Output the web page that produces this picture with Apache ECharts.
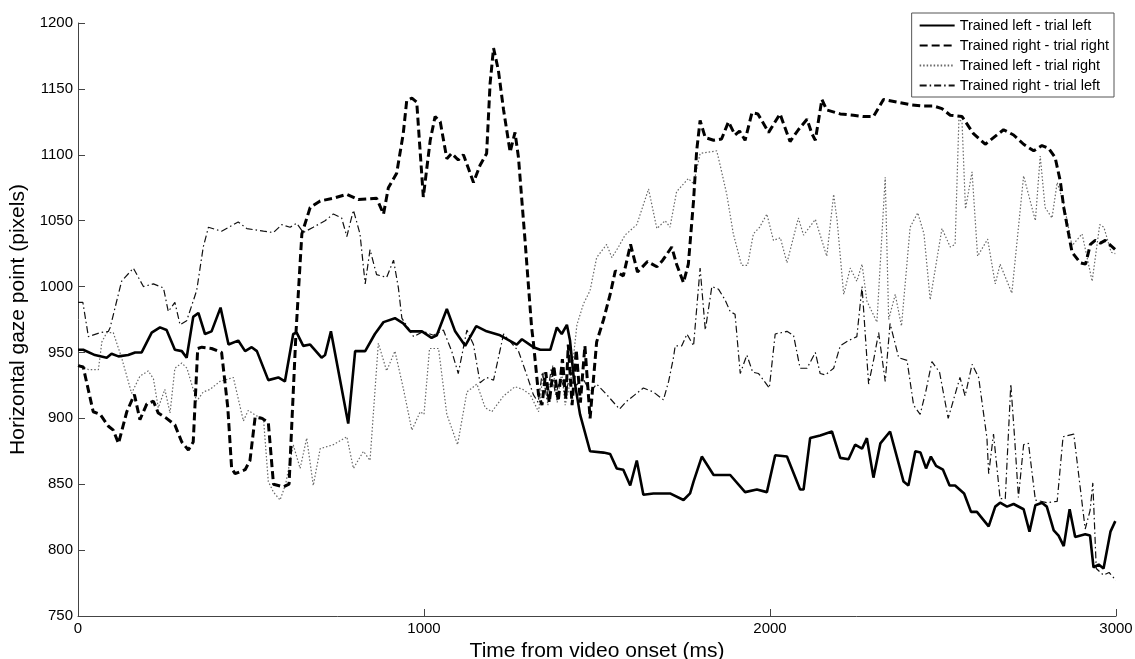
<!DOCTYPE html>
<html>
<head>
<meta charset="utf-8">
<script src="https://cdn.jsdelivr.net/npm/echarts@6/dist/echarts.min.js"></script>
<style>
  html, body { margin: 0; padding: 0; background: #fff; }
  #chart { width: 1135px; height: 659px; }
</style>
</head>
<body>
<div id="chart"></div>
<script>
// series names (legend order)
const seriesNames = [
  "Trained left - trial left",
  "Trained right - trial right",
  "Trained left - trial right",
  "Trained right - trial left"
];

// Trained left - trial left (solid)
const tSolid = [0, 15, 49, 83, 97, 117, 145, 165, 184, 213, 237, 256, 280, 300, 314, 333, 348, 367, 386, 412,
  435, 463, 483, 502, 517, 550, 579, 598, 622, 632, 651, 671, 704, 714, 731, 781, 801, 830, 858, 883,
  916, 940, 960, 994, 1022, 1037, 1066, 1090, 1119, 1151, 1181, 1220, 1268, 1283, 1316, 1336, 1365, 1384, 1398, 1413,
  1422, 1432, 1451, 1480, 1519, 1538, 1557, 1576, 1596, 1615, 1634, 1663, 1711, 1750, 1769, 1779, 1803, 1837, 1885, 1928,
  1962, 1991, 2015, 2049, 2087, 2097, 2116, 2145, 2179, 2203, 2227, 2246, 2266, 2280, 2299, 2319, 2347, 2386, 2400, 2420,
  2435, 2451, 2465, 2480, 2500, 2519, 2535, 2561, 2581, 2598, 2632, 2651, 2665, 2685, 2704, 2733, 2750, 2767, 2786, 2800,
  2820, 2834, 2849, 2866, 2882, 2911, 2925, 2935, 2950, 2964, 2984, 2998];
const vSolid = [952, 952, 948, 946, 949, 947, 948, 950, 950, 965, 969, 967, 952, 951, 946, 977, 980, 964, 966, 984,
  956, 959, 951, 954, 951, 929, 931, 928, 964, 965, 955, 956, 946, 948, 966, 896, 951, 951, 964, 973,
  976, 972, 966, 966, 961, 963, 983, 966, 955, 970, 966, 963, 956, 960, 954, 952, 952, 969, 964, 971,
  959, 933, 903, 875, 874, 873, 862, 861, 849, 868, 842, 843, 843, 838, 843, 852, 871, 857, 857, 844,
  846, 844, 872, 871, 846, 846, 885, 887, 890, 870, 869, 880, 877, 885, 855, 881, 890, 852, 849, 875,
  874, 862, 871, 864, 861, 849, 849, 843, 829, 829, 818, 833, 836, 833, 835, 831, 814, 834, 836, 833,
  815, 811, 803, 831, 810, 812, 811, 787, 789, 786, 814, 822];

// Trained right - trial right (dashed)
const tDashed = [0, 15, 44, 64, 88, 102, 117, 141, 163, 179, 199, 218, 232, 256, 280, 300, 319, 333, 346, 358,
  386, 415, 433, 444, 454, 483, 497, 512, 531, 550, 565, 593, 610, 630, 647, 671, 700, 738, 777, 810,
  863, 883, 897, 921, 940, 950, 965, 979, 998, 1018, 1032, 1047, 1066, 1080, 1099, 1114, 1143, 1162, 1181, 1191,
  1201, 1215, 1230, 1249, 1263, 1273, 1292, 1311, 1316, 1331, 1341, 1352, 1362, 1375, 1388, 1400, 1410, 1417, 1428, 1440,
  1452, 1465, 1480, 1499, 1519, 1538, 1553, 1576, 1597, 1617, 1646, 1673, 1690, 1716, 1730, 1750, 1764, 1779, 1788, 1798,
  1813, 1837, 1860, 1880, 1899, 1912, 1928, 1948, 1965, 1996, 2029, 2058, 2082, 2107, 2121, 2131, 2150, 2164, 2203, 2241,
  2270, 2299, 2328, 2367, 2405, 2444, 2473, 2497, 2521, 2555, 2588, 2622, 2646, 2675, 2704, 2733, 2762, 2786, 2805, 2824,
  2839, 2849, 2863, 2873, 2897, 2912, 2926, 2940, 2955, 2969, 2998];
const vDashed = [940, 939, 905, 903, 894, 891, 881, 905, 918, 899, 911, 913, 904, 900, 895, 882, 876, 882, 953, 954,
  953, 950, 908, 862, 858, 861, 868, 901, 900, 897, 850, 848, 850, 965, 1040, 1060, 1065, 1067, 1070, 1066,
  1067, 1055, 1075, 1086, 1116, 1141, 1143, 1140, 1068, 1111, 1129, 1125, 1097, 1101, 1096, 1100, 1079, 1092, 1101, 1154,
  1181, 1164, 1134, 1102, 1117, 1098, 1035, 969, 958, 918, 910, 935, 912, 940, 913, 945, 915, 956, 910, 952,
  912, 955, 900, 958, 975, 994, 1012, 1008, 1032, 1011, 1019, 1015, 1020, 1030, 1017, 1003, 1017, 1065, 1103, 1126,
  1113, 1111, 1112, 1125, 1115, 1118, 1111, 1132, 1131, 1117, 1131, 1110, 1119, 1127, 1116, 1111, 1142, 1134, 1131, 1130,
  1129, 1129, 1142, 1140, 1138, 1137, 1137, 1135, 1130, 1129, 1116, 1108, 1113, 1119, 1115, 1108, 1103, 1107, 1105, 1098,
  1080, 1060, 1040, 1026, 1018, 1017, 1032, 1035, 1033, 1035, 1028];

// Trained left - trial right (dotted)
const tDotted = [0, 15, 30, 59, 69, 83, 102, 126, 155, 179, 203, 218, 232, 251, 266, 280, 300, 315, 343, 362,
  382, 410, 449, 478, 492, 515, 536, 550, 565, 584, 600, 622, 642, 661, 680, 700, 738, 777, 796, 825,
  844, 868, 892, 916, 940, 965, 989, 1000, 1016, 1042, 1066, 1097, 1124, 1153, 1177, 1196, 1230, 1263, 1285, 1307,
  1331, 1345, 1358, 1372, 1385, 1398, 1408, 1425, 1442, 1461, 1480, 1499, 1528, 1543, 1562, 1581, 1615, 1649, 1673, 1697,
  1711, 1730, 1764, 1779, 1798, 1846, 1856, 1875, 1894, 1918, 1935, 1952, 1970, 1991, 2010, 2030, 2049, 2082, 2097, 2131,
  2164, 2184, 2194, 2213, 2232, 2251, 2266, 2280, 2309, 2333, 2343, 2362, 2380, 2405, 2427, 2445, 2463, 2497, 2521, 2535,
  2546, 2555, 2565, 2584, 2600, 2629, 2651, 2665, 2699, 2733, 2767, 2781, 2795, 2815, 2830, 2849, 2873, 2902, 2931, 2953,
  2965, 2986, 2998];
const vDotted = [941, 939, 937, 937, 958, 965, 965, 946, 919, 932, 936, 930, 908, 922, 904, 938, 942, 938, 913, 920,
  922, 928, 931, 898, 906, 902, 900, 852, 844, 838, 850, 880, 862, 885, 849, 877, 880, 886, 862, 875,
  868, 957, 936, 951, 923, 891, 905, 903, 953, 953, 903, 880, 920, 926, 908, 905, 917, 924, 922, 918,
  905, 935, 910, 940, 912, 935, 910, 930, 971, 987, 997, 1022, 1032, 1022, 1030, 1039, 1047, 1074, 1044, 1050,
  1045, 1072, 1082, 1078, 1101, 1103, 1092, 1070, 1040, 1016, 1016, 1040, 1045, 1055, 1035, 1037, 1018, 1052, 1039, 1051,
  1023, 1070, 1050, 994, 1014, 1004, 1017, 989, 973, 1083, 975, 994, 970, 1045, 1056, 1040, 990, 1044, 1030, 1032,
  1127, 1125, 1059, 1087, 1023, 1036, 1002, 1017, 995, 1084, 1050, 1099, 1060, 1052, 1079, 1063, 1031, 1040, 1004, 1047,
  1045, 1026, 1025];

// Trained right - trial left (dash-dot)
const tDashDot = [0, 14, 27, 30, 64, 88, 93, 126, 160, 189, 218, 247, 261, 280, 295, 314, 343, 362, 377, 415,
  463, 488, 536, 565, 589, 613, 632, 651, 680, 714, 738, 762, 777, 796, 815, 830, 844, 863, 892, 912,
  926, 936, 970, 998, 1027, 1056, 1080, 1099, 1124, 1143, 1162, 1181, 1201, 1230, 1250, 1273, 1297, 1316, 1330, 1342,
  1355, 1368, 1380, 1395, 1410, 1425, 1440, 1460, 1480, 1499, 1528, 1565, 1586, 1610, 1634, 1663, 1692, 1707, 1721, 1726,
  1745, 1760, 1779, 1798, 1813, 1832, 1851, 1870, 1885, 1899, 1914, 1933, 1950, 1967, 1998, 2015, 2049, 2068, 2087, 2107,
  2131, 2145, 2160, 2184, 2203, 2227, 2251, 2266, 2285, 2300, 2314, 2333, 2347, 2372, 2396, 2415, 2434, 2450, 2468, 2490,
  2515, 2549, 2564, 2584, 2603, 2627, 2632, 2646, 2665, 2680, 2696, 2707, 2718, 2733, 2747, 2767, 2801, 2830, 2847, 2878,
  2911, 2925, 2933, 2943, 2964, 2980, 3000];
const vDashDot = [988, 988, 967, 962, 965, 966, 969, 1004, 1014, 1000, 1002, 999, 981, 988, 971, 974, 997, 1030, 1045, 1042,
  1049, 1044, 1042, 1041, 1047, 1045, 1048, 1041, 1045, 1050, 1055, 1052, 1038, 1058, 1040, 1002, 1028, 1009, 1007, 1020,
  999, 976, 962, 966, 963, 967, 951, 934, 967, 956, 927, 931, 929, 964, 958, 951, 933, 918, 912, 935,
  915, 938, 918, 930, 920, 935, 925, 930, 920, 926, 918, 907, 913, 918, 923, 920, 914, 928, 946, 955,
  955, 964, 955, 1014, 967, 1000, 998, 990, 981, 979, 934, 948, 935, 934, 923, 964, 966, 963, 938, 938,
  950, 934, 933, 938, 955, 959, 962, 1000, 926, 945, 965, 928, 972, 946, 944, 910, 903, 920, 943, 935,
  900, 931, 917, 941, 931, 885, 858, 888, 839, 839, 926, 885, 840, 880, 881, 838, 836, 837, 886, 888,
  816, 830, 851, 786, 781, 783, 777];

// axis ticks
const xTicks = [0, 1000, 2000, 3000];
const yTicks = [750, 800, 850, 900, 950, 1000, 1050, 1100, 1150, 1200];

function zip(ts, vs) {
  return ts.map((t, i) => [t, vs[i]]);
}

const font = "'Liberation Sans', Arial, sans-serif";

let chart = echarts.init(document.getElementById("chart"), null, { renderer: "canvas" });

let option = {
  animation: false,
  backgroundColor: "#fff",
  grid: { left: 78, right: 19, top: 23, bottom: 43, containLabel: false, outerBoundsMode: "none" },
  legend: {
    orient: "vertical",
    right: 21,
    top: 13,
    padding: [5, 5, 4, 7],
    itemWidth: 35,
    itemHeight: 14,
    itemGap: 5,
    borderColor: "#555",
    borderWidth: 1,
    backgroundColor: "#fff",
    // hide the marker dot, keep only the line sample
    itemStyle: { opacity: 0 },
    textStyle: { fontSize: 14.5, color: "#000", fontFamily: font },
    data: seriesNames
  },
  xAxis: {
    type: "value",
    min: xTicks[0],
    max: xTicks[xTicks.length - 1],
    interval: 1000,
    name: "Time from video onset (ms)",
    nameLocation: "middle",
    nameGap: 21,
    nameTextStyle: { fontSize: 21, color: "#000", fontFamily: font },
    axisLine: { lineStyle: { color: "#444", width: 1 } },
    axisTick: { inside: true, length: 7, lineStyle: { color: "#444" } },
    axisLabel: { fontSize: 15, color: "#000", margin: 5, fontFamily: font, formatter: v => String(v) },
    splitLine: { show: false }
  },
  yAxis: {
    type: "value",
    min: yTicks[0],
    max: yTicks[yTicks.length - 1],
    interval: 50,
    name: "Horizontal gaze point (pixels)",
    nameLocation: "middle",
    nameGap: 40,
    nameTextStyle: { fontSize: 21, color: "#000", fontFamily: font },
    axisLine: { show: true, lineStyle: { color: "#444", width: 1 } },
    axisTick: { show: true, inside: true, length: 7, lineStyle: { color: "#444" } },
    axisLabel: { fontSize: 15, color: "#000", margin: 5, fontFamily: font, formatter: v => String(v) },
    splitLine: { show: false }
  },
  series: [
    {
      name: seriesNames[2],
      type: "line",
      data: zip(tDotted, vDotted),
      showSymbol: false,
      symbol: "none",
      lineStyle: { color: "#666", width: 1.2, type: [1.5, 2] },
      itemStyle: { color: "#666" },
      z: 1
    },
    {
      name: seriesNames[3],
      type: "line",
      data: zip(tDashDot, vDashDot),
      showSymbol: false,
      symbol: "none",
      lineStyle: { color: "#111", width: 1.2, type: [7, 3, 1.5, 3] },
      itemStyle: { color: "#111" },
      z: 2
    },
    {
      name: seriesNames[0],
      type: "line",
      data: zip(tSolid, vSolid),
      showSymbol: false,
      symbol: "none",
      lineStyle: { color: "#000", width: 2.6 },
      itemStyle: { color: "#000" },
      z: 3
    },
    {
      name: seriesNames[1],
      type: "line",
      data: zip(tDashed, vDashed),
      showSymbol: false,
      symbol: "none",
      lineStyle: { color: "#000", width: 3, type: [8, 4] },
      itemStyle: { color: "#000" },
      z: 4
    }
  ]
};

chart.setOption(option);
</script>
</body>
</html>
